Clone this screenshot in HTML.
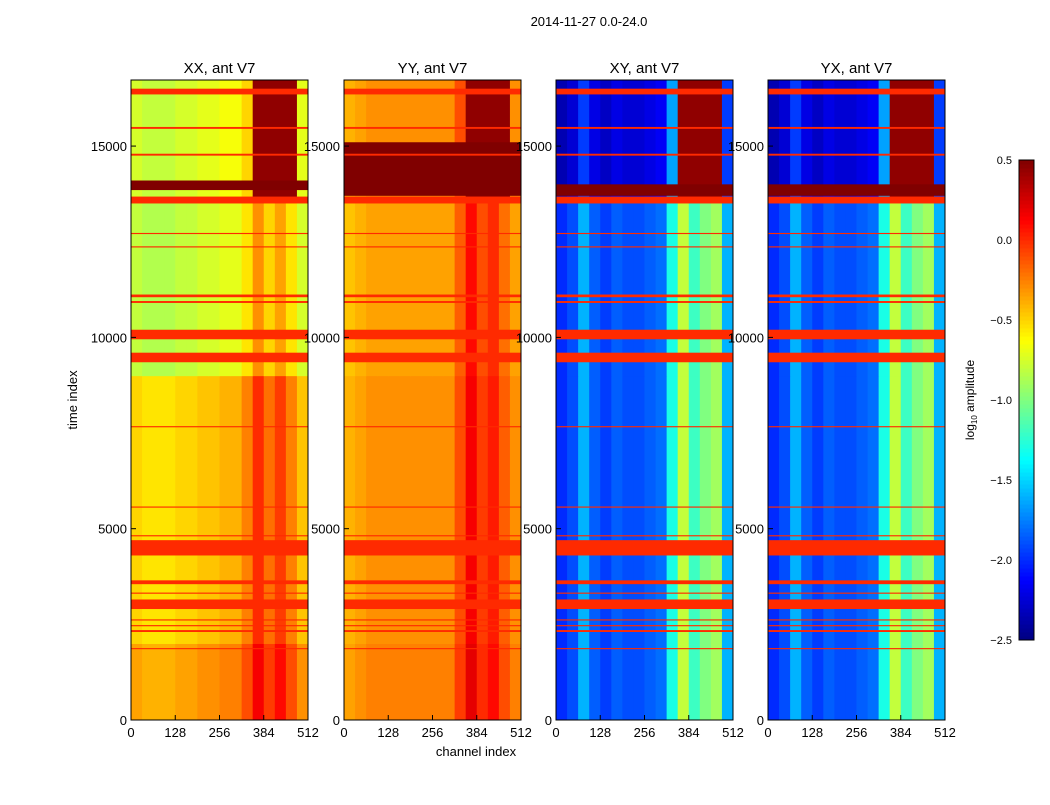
<!DOCTYPE html>
<html><head><meta charset="utf-8"><style>
body{margin:0;background:#fff;font-family:"Liberation Sans",sans-serif;}
svg text{font-family:"Liberation Sans",sans-serif;fill:#000;}
</style></head><body>
<svg id="fig" width="1050" height="800" xmlns="http://www.w3.org/2000/svg">
<rect width="1050" height="800" fill="#fff"/>
<text x="589" y="26" font-size="13" text-anchor="middle">2014-11-27 0.0-24.0</text>
<text transform="translate(77,400) rotate(-90)" font-size="13" text-anchor="middle">time index</text>
<text x="476" y="756" font-size="13" text-anchor="middle">channel index</text>
<g id="panels"></g>
<g id="cbar"></g>
</svg>
<script>
// ---- data ----
const panelTitles = ["XX, ant V7","YY, ant V7","XY, ant V7","YX, ant V7"];
const channelBins = [0,32,64,96,128,160,192,224,256,288,320,352,384,416,448,480,512];
const profileXX = [-0.55,-0.6,-0.6,-0.6,-0.55,-0.55,-0.5,-0.5,-0.45,-0.45,-0.3,-0.05,-0.25,-0.1,-0.3,-0.5];
const profileYY = [-0.4,-0.35,-0.3,-0.3,-0.3,-0.3,-0.3,-0.3,-0.3,-0.3,-0.1,0.15,-0.05,0.05,-0.15,-0.3];
const profileXY = [-2.0,-1.9,-1.6,-1.85,-1.95,-1.85,-1.9,-1.9,-1.85,-1.8,-1.3,-0.8,-1.2,-1.0,-0.9,-1.6];
const profileYX = [-2.0,-1.9,-1.6,-1.85,-1.95,-1.85,-1.9,-1.9,-1.85,-1.8,-1.3,-0.8,-1.2,-1.0,-0.9,-1.6];
const timeEdges = [0,2000,9000,13600,16727];
const offsetXX = [0.2,0.05,-0.25,-0.2];
const offsetYY = [0.05,0.0,-0.05,0.0];
const offsetXY = [0.0,0.0,0.0,-0.35];
const offsetYX = [0.0,0.0,0.0,-0.35];
const topHotValue = 0.45;
const flagStart = [16350,15450,14750,13500,12700,12350,11050,10900,9950,9350,7650,5550,4800,4300,3550,3300,2900,2600,2450,2300,1850];
const flagEnd   = [16500,15500,14800,13680,12730,12380,11120,10950,10200,9600,7680,5580,4830,4700,3650,3330,3150,2630,2480,2350,1880];
const flagValue = 0.0;
const hotStartXX = 13850, hotEndXX = 14100;
const hotStartYY = 13700, hotEndYY = 15100;
const hotStartXY = 13700, hotEndXY = 14000;
const xTicks = [0,128,256,384,512];
const yTicks = [0,5000,10000,15000];
const cbTicks = [0.5,0.0,-0.5,-1.0,-1.5,-2.0,-2.5];
const vmin=-2.5, vmax=0.5, tmax=16727;
// ---- layout ----
const panelX=[131,344,556,768], pw=177, plotTop=80, plotBottom=720;
function jet(v){let t=Math.max(0,Math.min(1,(v-vmin)/(vmax-vmin)));
 const c=f=>Math.round(255*Math.max(0,Math.min(1,f)));
 return `rgb(${c(1.5-Math.abs(4*t-3))},${c(1.5-Math.abs(4*t-2))},${c(1.5-Math.abs(4*t-1))})`;}
const ns="http://www.w3.org/2000/svg";
function mk(tag,attrs,parent){const e=document.createElementNS(ns,tag);for(const k in attrs)e.setAttribute(k,attrs[k]);parent.appendChild(e);return e;}
const profiles=[profileXX,profileYY,profileXY,profileYX];
const offsets=[offsetXX,offsetYY,offsetXY,offsetYX];
const hots=[[hotStartXX,hotEndXX],[hotStartYY,hotEndYY],[hotStartXY,hotEndXY],[hotStartXY,hotEndXY]];
const G=document.getElementById('panels');
panelTitles.forEach((title,p)=>{
 const x0=panelX[p];
 const xs=c=>x0+c/512*pw, ys=t=>plotBottom-t/tmax*(plotBottom-plotTop);
 const g=mk('g',{},G);
 
 
 for(let s=0;s<timeEdges.length-1;s++){
  for(let b=0;b<channelBins.length-1;b++){
   let v=profiles[p][b]+offsets[p][s];
   if(s===timeEdges.length-2 && b>=11 && b<=14) v=topHotValue;
   const r=mk('rect',{x:xs(channelBins[b]),y:ys(timeEdges[s+1]),width:xs(channelBins[b+1])-xs(channelBins[b])+0.5,height:ys(timeEdges[s])-ys(timeEdges[s+1])+0.5,fill:jet(v)},g);
   
   
  }
 }
 const h=hots[p];
 const hr=mk('rect',{x:xs(0),y:ys(h[1]),width:pw,height:ys(h[0])-ys(h[1]),fill:jet(0.5)},g);
 
 
 flagStart.forEach((fs,i)=>{
  const r=mk('rect',{x:xs(0),y:ys(flagEnd[i]),width:pw,height:Math.max(1,ys(fs)-ys(flagEnd[i])),fill:jet(flagValue)},g);
  
  
 });
 mk('rect',{x:x0,y:plotTop,width:pw,height:plotBottom-plotTop,fill:'none',stroke:'#000','stroke-width':1},g);
 const tt=mk('text',{x:x0+pw/2,y:73,'font-size':15,'text-anchor':'middle'},g);tt.textContent=title;
 
 
 xTicks.forEach(c=>{mk('line',{x1:xs(c),x2:xs(c),y1:plotBottom,y2:plotBottom-5,stroke:'#000'},g);
  const t=mk('text',{x:xs(c),y:plotBottom+17,'font-size':13,'text-anchor':'middle'},g);t.textContent=c;
  
  });
 yTicks.forEach(v=>{mk('line',{x1:x0,x2:x0+5,y1:ys(v),y2:ys(v),stroke:'#000'},g);
  const t=mk('text',{x:x0-4,y:ys(v)+5,'font-size':13,'text-anchor':'end'},g);t.textContent=v;
  
  });
});
// colorbar
const C=document.getElementById('cbar');
const cbx=1019,cbw=15,cbt=160,cbb=640;
const cy=v=>cbb-(v-vmin)/(vmax-vmin)*(cbb-cbt);
for(let i=0;i<120;i++){const v0=vmin+(vmax-vmin)*i/120,v1=vmin+(vmax-vmin)*(i+1)/120;
 const r=mk('rect',{x:cbx,y:cy(v1),width:cbw,height:cy(v0)-cy(v1)+0.5,fill:jet((v0+v1)/2)},C);
 
 }
mk('rect',{x:cbx,y:cbt,width:cbw,height:cbb-cbt,fill:'none',stroke:'#000'},C);
cbTicks.forEach(v=>{const t=mk('text',{x:cbx-7,y:cy(v)+4,'font-size':11,'text-anchor':'end'},C);t.textContent=(v<0?'\u2212'+(-v).toFixed(1):v.toFixed(1));
 
 });
const cl=mk('text',{transform:'translate(974,400) rotate(-90)','font-size':12,'text-anchor':'middle'},C);
cl.innerHTML='log<tspan font-size="8" dy="3">10</tspan><tspan dy="-3"> amplitude</tspan>';


</script>
</body></html>
